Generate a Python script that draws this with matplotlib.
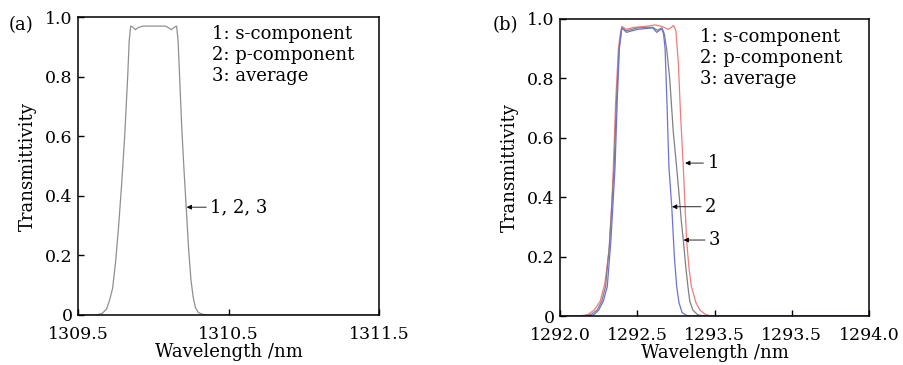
import matplotlib
matplotlib.use("Agg")
import matplotlib.pyplot as plt

plt.rcParams['font.family'] = ['DejaVu Serif']
plt.rcParams['font.size'] = 12

# (a) all three components coincide
wl_a = [1309.50, 1309.62, 1309.66, 1309.69, 1309.71, 1309.73, 1309.75, 1309.77,
        1309.79, 1309.81, 1309.83, 1309.84, 1309.85, 1309.86, 1309.88, 1309.90,
        1309.93, 1310.00, 1310.08, 1310.10, 1310.12, 1310.14, 1310.155, 1310.165,
        1310.175, 1310.19, 1310.205, 1310.22, 1310.235, 1310.25, 1310.265, 1310.28,
        1310.30, 1310.33, 1310.36, 1311.50]
t_a = [0, 0, 0.005, 0.02, 0.05, 0.09, 0.18, 0.30,
       0.44, 0.60, 0.80, 0.92, 0.97, 0.968, 0.958, 0.965,
       0.97, 0.97, 0.97, 0.965, 0.958, 0.966, 0.97, 0.92,
       0.80, 0.62, 0.48, 0.35, 0.22, 0.12, 0.06, 0.025,
       0.008, 0.002, 0, 0]

# (b) s-component (red)
wl_s = [1292.00, 1292.12, 1292.18, 1292.22, 1292.26, 1292.29, 1292.317, 1292.335,
        1292.345, 1292.36, 1292.378, 1292.39, 1292.40, 1292.43, 1292.48, 1292.55,
        1292.615, 1292.66, 1292.70, 1292.72, 1292.735, 1292.75, 1292.766, 1292.78,
        1292.798, 1292.81, 1292.82, 1292.835, 1292.85, 1292.88, 1292.906, 1292.94,
        1292.98, 1294.00]
t_s = [0, 0, 0.005, 0.02, 0.05, 0.11, 0.22, 0.38,
       0.50, 0.72, 0.90, 0.95, 0.975, 0.965, 0.972, 0.975,
       0.98, 0.975, 0.965, 0.972, 0.978, 0.96, 0.85, 0.68,
       0.50, 0.36, 0.25, 0.16, 0.10, 0.045, 0.02, 0.006,
       0, 0]

# (b) p-component (blue)
wl_p = [1292.00, 1292.18, 1292.22, 1292.25, 1292.28, 1292.306, 1292.33, 1292.356,
        1292.37, 1292.384, 1292.40, 1292.43, 1292.50, 1292.60, 1292.626, 1292.645,
        1292.658, 1292.67, 1292.68, 1292.692, 1292.705, 1292.723, 1292.74, 1292.755,
        1292.77, 1292.79, 1292.82, 1292.85, 1294.00]
t_p = [0, 0, 0.005, 0.02, 0.05, 0.10, 0.26, 0.50,
       0.72, 0.90, 0.97, 0.955, 0.965, 0.97, 0.955, 0.962,
       0.968, 0.95, 0.90, 0.72, 0.50, 0.37, 0.20, 0.10,
       0.045, 0.012, 0.002, 0, 0]

# (b) average (gray)
wl_avg = [1292.00, 1292.15, 1292.20, 1292.24, 1292.27, 1292.295, 1292.32, 1292.35,
          1292.365, 1292.382, 1292.40, 1292.43, 1292.50, 1292.60, 1292.63, 1292.66,
          1292.675, 1292.69, 1292.71, 1292.733, 1292.755, 1292.772, 1292.785, 1292.798,
          1292.815, 1292.83, 1292.84, 1292.86, 1292.89, 1292.93, 1294.00]
t_avg = [0, 0, 0.005, 0.02, 0.05, 0.10, 0.24, 0.50,
         0.72, 0.90, 0.97, 0.96, 0.97, 0.972, 0.962, 0.97,
         0.95, 0.90, 0.80, 0.62, 0.50, 0.40, 0.32, 0.256,
         0.16, 0.09, 0.05, 0.02, 0.005, 0, 0]

xticks_a = [1309.5, 1310.5, 1311.5]
xticklabels_a = ['1309.5', '1310.5', '1311.5']
xticks_b = [1292.0, 1292.5, 1293.0, 1293.5, 1294.0]
xticklabels_b = ['1292.0', '1292.5', '1293.5', '1293.5', '1294.0']
yticks = [0, 0.2, 0.4, 0.6, 0.8, 1.0]
yticklabels = ['0', '0.2', '0.4', '0.6', '0.8', '1.0']
legend_lines = ['1: s-component', '2: p-component', '3: average']

fig = plt.figure(figsize=(9.04, 3.65), dpi=100)
ax1 = fig.add_axes([0.0863, 0.137, 0.333, 0.816])
ax2 = fig.add_axes([0.6195, 0.134, 0.3418, 0.814])


def style(ax, xticks, xlabels):
    ax.set_ylim(0, 1.0)
    ax.set_xlim(xticks[0], xticks[-1])
    ax.set_xticks(xticks)
    ax.set_xticklabels(xlabels)
    ax.set_yticks(yticks)
    ax.set_yticklabels(yticklabels)
    ax.tick_params(direction='in', length=4, width=1, top=False, right=False,
                   labelsize=12.5)
    ax.tick_params(axis='x', pad=8)
    ax.tick_params(axis='y', pad=4)
    for s in ax.spines.values():
        s.set_linewidth(1.1)
    ax.set_xlabel('Wavelength /nm', fontsize=13, labelpad=0)
    ax.set_ylabel('Transmittivity', fontsize=13, labelpad=6)


style(ax1, xticks_a, xticklabels_a)
ax1.plot(wl_a, t_a, color='#909090', lw=0.9)
ax1.text(0.444, 0.975, '\n'.join(legend_lines), transform=ax1.transAxes,
         va='top', ha='left', fontsize=13, linespacing=1.22)
ax1.annotate('1, 2, 3', xy=(1310.222, 0.362), xytext=(1310.38, 0.362),
             va='center', fontsize=13,
             arrowprops=dict(arrowstyle='-|>', color='black', lw=0.6,
                             mutation_scale=7, shrinkA=1, shrinkB=0))

style(ax2, xticks_b, xticklabels_b)
ax2.plot(wl_s, t_s, color='#f07c7c', lw=0.9)
ax2.plot(wl_avg, t_avg, color='#808080', lw=0.9)
ax2.plot(wl_p, t_p, color='#6a74d8', lw=0.9)
ax2.text(0.453, 0.97, '\n'.join(legend_lines), transform=ax2.transAxes,
         va='top', ha='left', fontsize=13, linespacing=1.22)
for lab, tip, ty, tx in [('1', 1292.81, 0.515, 1292.955),
                         ('2', 1292.725, 0.368, 1292.94),
                         ('3', 1292.80, 0.256, 1292.965)]:
    ax2.annotate(lab, xy=(tip, ty), xytext=(tx, ty), va='center', fontsize=13,
                 arrowprops=dict(arrowstyle='-|>', color='black', lw=0.6,
                                 mutation_scale=7, shrinkA=1, shrinkB=0))

fig.text(0.009, 0.93, '(a)', fontsize=13, va='center')
fig.text(0.545, 0.93, '(b)', fontsize=13, va='center')

fig.savefig('out.png', dpi=100)
